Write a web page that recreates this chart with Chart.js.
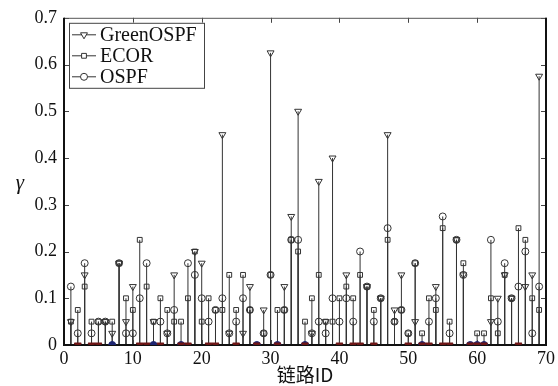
<!DOCTYPE html>
<html>
<head>
<meta charset="utf-8">
<script src="https://cdn.jsdelivr.net/npm/chart.js@4.4.0/dist/chart.umd.min.js"></script>
<style>
  html, body { margin: 0; padding: 0; background: #fff; }
  #wrap { width: 558px; height: 386px; }
</style>
</head>
<body>
<div id="wrap"><canvas id="chart"></canvas></div>
<script>
const linkIds = [1, 2, 3, 4, 5, 6, 7, 8, 9, 10, 11, 12, 13, 14, 15, 16, 17, 18, 19, 20,
  21, 22, 23, 24, 25, 26, 27, 28, 29, 30, 31, 32, 33, 34, 35, 36, 37, 38, 39, 40,
  41, 42, 43, 44, 45, 46, 47, 48, 49, 50, 51, 52, 53, 54, 55, 56, 57, 58, 59, 60,
  61, 62, 63, 64, 65, 66, 67, 68, 69];

const greenOspf = [0.05, 0, 0.15, 0, 0, 0.05, 0.025, 0.175, 0.05, 0.125,
  0, 0, 0.05, 0, 0.025, 0.15, 0, 0, 0.2, 0.175,
  0, 0, 0.45, 0.025, 0, 0.025, 0.125, 0, 0.075, 0.625,
  0, 0.125, 0.275, 0.5, 0, 0.025, 0.35, 0.05, 0.4, 0,
  0.15, 0, 0, 0.125, 0, 0.1, 0.45, 0.075, 0.15, 0,
  0.05, 0, 0, 0.125, 0, 0, 0.225, 0.15, 0, 0,
  0, 0.05, 0.1, 0.15, 0.1, 0, 0.125, 0.15, 0.575];

const ecor = [0.05, 0.075, 0.125, 0.05, 0.05, 0.05, 0.05, 0.175, 0.1, 0.075,
  0.225, 0.125, 0.05, 0.1, 0.075, 0.05, 0.05, 0.1, 0.2, 0.05,
  0.1, 0.075, 0.075, 0.15, 0.075, 0.15, 0.075, 0, 0.025, 0.15,
  0.075, 0.075, 0.225, 0.2, 0.05, 0.1, 0.15, 0.05, 0.05, 0.1,
  0.125, 0.1, 0.15, 0.125, 0.075, 0.1, 0.225, 0.05, 0.075, 0.025,
  0.175, 0.025, 0.1, 0.075, 0.25, 0.05, 0.225, 0.175, 0, 0.025,
  0.025, 0.1, 0.025, 0.15, 0.1, 0.25, 0.225, 0.1, 0.075];

const ospf = [0.125, 0.025, 0.175, 0.025, 0.05, 0.05, 0, 0.175, 0.025, 0.025,
  0.1, 0.175, 0, 0.05, 0.025, 0.075, 0, 0.175, 0.15, 0.1,
  0.05, 0.075, 0.1, 0.025, 0.05, 0.1, 0.075, 0, 0.025, 0.15,
  0, 0.075, 0.225, 0.225, 0, 0.025, 0.05, 0.025, 0.1, 0.05,
  0.1, 0.05, 0.2, 0.125, 0.05, 0.1, 0.25, 0.05, 0.075, 0.025,
  0.175, 0, 0.05, 0.1, 0.275, 0.025, 0.225, 0.15, 0, 0,
  0, 0.225, 0.05, 0.175, 0.1, 0.125, 0.2, 0.025, 0.125];

const seriesNames = ['GreenOSPF', 'ECOR', 'OSPF'];
const xTicks = [0, 10, 20, 30, 40, 50, 60, 70];
const yTicks = [0, 0.1, 0.2, 0.3, 0.4, 0.5, 0.6, 0.7];
const yTitle = 'γ';

const SERIF = "'Liberation Serif', 'DejaVu Serif', serif";
const INK = '#333';

function points(values) {
  return linkIds.map((id, i) => ({ x: id, y: values[i] }));
}

// zero values show up as coloured markers sitting on the base line
function zeroFill(colour) {
  return c => (c.raw && c.raw.y === 0) ? colour : 'rgba(0,0,0,0)';
}
function zeroEdge(colour) {
  return c => (c.raw && c.raw.y === 0) ? colour : INK;
}

const stems = {
  id: 'stems',
  beforeDatasetsDraw(chart) {
    const { ctx } = chart;
    const y0 = chart.scales.y.getPixelForValue(0);
    ctx.save();
    ctx.strokeStyle = INK;
    ctx.lineWidth = 1;
    chart.data.datasets.forEach((ds, i) => {
      chart.getDatasetMeta(i).data.forEach(el => {
        ctx.beginPath();
        ctx.moveTo(el.x, y0);
        ctx.lineTo(el.x, el.y);
        ctx.stroke();
      });
    });
    ctx.restore();
  }
};

const frame = {
  id: 'frame',
  beforeDatasetsDraw(chart) {
    const { ctx, chartArea: a } = chart;
    const { x, y } = chart.scales;
    const seg = (x1, y1, x2, y2) => { ctx.beginPath(); ctx.moveTo(x1, y1); ctx.lineTo(x2, y2); ctx.stroke(); };
    ctx.save();
    ctx.strokeStyle = '#444';
    ctx.lineWidth = 1;
    xTicks.forEach(v => {
      const px = Math.round(x.getPixelForValue(v)) + 0.5;
      seg(px, a.bottom, px, a.bottom - 5);
      seg(px, a.top, px, a.top + 5);
    });
    yTicks.forEach(v => {
      const py = Math.round(y.getPixelForValue(v)) + 0.5;
      seg(a.left, py, a.left + 5, py);
      seg(a.right, py, a.right - 5, py);
    });
    ctx.strokeStyle = '#555';
    seg(a.left, a.top + 0.5, a.right, a.top + 0.5);
    ctx.strokeStyle = '#111';
    ctx.lineWidth = 2;
    seg(a.left, a.top, a.left, a.bottom + 1);
    seg(a.right, a.top, a.right, a.bottom + 1);
    seg(a.left, a.bottom, a.right, a.bottom);
    // upright y label, as in the figure
    ctx.fillStyle = '#111';
    ctx.font = 'italic 21px ' + SERIF;
    ctx.textAlign = 'center';
    ctx.textBaseline = 'middle';
    ctx.fillText(yTitle, 20, (a.top + a.bottom) / 2 + 2);
    ctx.restore();
  }
};

const legendBox = {
  id: 'legendBox',
  afterDraw(chart) {
    const { ctx, chartArea: a } = chart;
    const bx = a.left + 5, by = a.top + 5, bw = 135, bh = 65;
    ctx.save();
    ctx.fillStyle = '#fff';
    ctx.fillRect(bx, by, bw, bh);
    ctx.strokeStyle = '#444';
    ctx.lineWidth = 1;
    ctx.strokeRect(bx + 0.5, by + 0.5, bw, bh);
    chart.data.datasets.forEach((ds, i) => {
      const cy = by + 12 + i * 21;
      ctx.strokeStyle = INK;
      ctx.beginPath();
      ctx.moveTo(bx + 3, cy);
      ctx.lineTo(bx + 27, cy);
      ctx.stroke();
      ctx.fillStyle = '#fff';
      Chart.helpers.drawPoint(ctx, {
        pointStyle: ds.pointStyle,
        rotation: ds.pointRotation || 0,
        radius: ds.pointRadius,
        borderWidth: 1
      }, bx + 15, cy);
      ctx.fillStyle = '#111';
      ctx.font = '20px ' + SERIF;
      ctx.textBaseline = 'middle';
      ctx.fillText(seriesNames[i], bx + 31, cy + 1);
    });
    ctx.restore();
  }
};

new Chart(document.getElementById('chart'), {
  type: 'scatter',
  data: {
    datasets: [
      {
        label: seriesNames[0], data: points(greenOspf),
        pointStyle: 'triangle', pointRotation: 180, pointRadius: 4,
        pointBorderWidth: 1,
        pointBorderColor: zeroEdge('#6e1616'), pointBackgroundColor: zeroFill('#6e1616')
      },
      {
        label: seriesNames[1], data: points(ecor),
        pointStyle: 'rect', pointRadius: 3.4,
        pointBorderWidth: 1,
        pointBorderColor: zeroEdge('#1c2470'), pointBackgroundColor: zeroFill('#1c2470')
      },
      {
        label: seriesNames[2], data: points(ospf),
        pointStyle: 'circle', pointRadius: 3.5,
        pointBorderWidth: 1,
        pointBorderColor: zeroEdge('#1c2470'), pointBackgroundColor: zeroFill('#1c2470')
      }
    ]
  },
  options: {
    responsive: true,
    maintainAspectRatio: false,
    animation: false,
    layout: { padding: { top: 16, right: 12, left: 0, bottom: 0 } },
    plugins: { legend: { display: false }, tooltip: { enabled: false } },
    scales: {
      x: {
        type: 'linear', min: 0, max: 70,
        afterBuildTicks: s => { s.ticks = xTicks.map(v => ({ value: v })); },
        afterFit: s => { s.height = 41; },
        grid: { display: false, drawTicks: false },
        border: { display: false },
        ticks: { color: '#111', padding: 3, font: { family: SERIF, size: 18 } },
        title: {
          display: true, text: '链路ID', color: '#111',
          padding: { top: 0, bottom: 0 },
          font: { family: "'Noto Sans CJK SC', sans-serif", size: 19 }
        }
      },
      y: {
        type: 'linear', min: 0, max: 0.7,
        afterBuildTicks: s => { s.ticks = yTicks.map(v => ({ value: v })); },
        afterFit: s => { s.width = 64; },
        grid: { display: false, drawTicks: false },
        border: { display: false },
        ticks: {
          color: '#111', padding: 7, font: { family: SERIF, size: 18 },
          callback: v => String(+v.toFixed(1))
        }
      }
    }
  },
  plugins: [stems, frame, legendBox]
});
</script>
</body>
</html>
